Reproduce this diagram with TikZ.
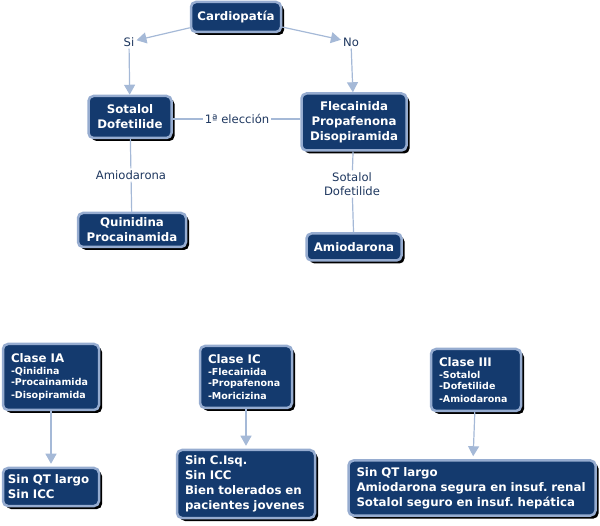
\documentclass[tikz,border=0pt]{standalone}
\usepackage{fontspec}
\setmainfont{DejaVu Sans}
\usetikzlibrary{arrows.meta,shadows}
\definecolor{navy}{RGB}{20,58,110}
\definecolor{frame}{RGB}{150,172,208}
\definecolor{wire}{RGB}{165,185,215}
\definecolor{ink}{RGB}{30,55,95}
\tikzset{
  >={Triangle[length=10pt,width=11pt]},
  concept/.style={fill=navy,draw=frame,line width=2.5pt,rounded corners=5pt,text=white,
    font=\fontsize{11.8}{15}\selectfont\bfseries,align=center,inner sep=4pt,
    drop shadow={shadow xshift=3pt,shadow yshift=-3pt,fill=black,opacity=1}},
  clase/.style={concept,align=left,text width=#1,inner xsep=8pt},
  phrase/.style={text=ink,font=\fontsize{11.6}{14}\selectfont,align=center,inner sep=2pt,fill=white},
  link/.style={draw=wire,line width=1.2pt},
  flow/.style={link,->},
}
\newcommand{\items}{\fontsize{9.5}{12.5}\selectfont}

\begin{document}
\frenchspacing
\begin{tikzpicture}[x=1pt,y=-1pt]
  \useasboundingbox (0,0) rectangle (600,526);
  % arbol de decision
  \node[concept,minimum width=90pt,minimum height=30pt] (card) at (236,17) {Cardiopatía};
  \node[phrase] (siL) at (129,42) {Si};
  \node[phrase] (noL) at (351,42) {No};
  \node[concept,minimum width=83pt,minimum height=42pt] (sota) at (130,117) {Sotalol\\Dofetilide};
  \node[concept,minimum width=105pt,minimum height=57pt] (fleca) at (354,122) {Flecainida\\Propafenona\\Disopiramida};
  \node[phrase] (elec) at (237,119) {1ª elección};
  \node[phrase] (amioL) at (131,175) {Amiodarona};
  \node[phrase] (sotaL) at (352,184) {Sotalol\\Dofetilide};
  \node[concept,minimum width=108pt,minimum height=34pt] (quini) at (132,230) {Quinidina\\Procainamida};
  \node[concept,minimum width=95pt,minimum height=27pt] (amio) at (354,247) {Amiodarona};

  \draw[flow] (card) -- (siL);
  \draw[flow] (card) -- (noL);
  \draw[flow] (siL) -- (sota);
  \draw[flow] (noL) -- (fleca);
  \draw[link] (sota.east |- elec) -- (elec) -- (elec -| fleca.west);
  \draw[link] (sota) -- (amioL) -- (quini);
  \draw[link] (fleca) -- (sotaL) -- (amio);

  % clases
  \node[clase=80pt,minimum height=66pt] (cIA) at (51,377)
    {Clase IA\\\items -Qinidina\\[-2pt]-Procainamida\\[-2pt]-Disopiramida};
  \node[clase=86pt,inner xsep=5pt,minimum height=38pt] (rIA) at (51,487) {Sin QT largo\\Sin ICC};
  \node[clase=76pt,minimum height=62pt] (cIC) at (246,377)
    {Clase IC\\\items -Flecainida\\[-2pt]-Propafenona\\[-2pt]-Moricizina};
  \node[clase=122pt,minimum height=68pt] (rIC) at (246,484)
    {Sin C.Isq.\\Sin ICC\\Bien tolerados en\\pacientes jovenes};
  \node[clase=74pt,minimum height=62pt] (cIII) at (476,380)
    {Clase III\\\items -Sotalol\\[-2pt]-Dofetilide\\[-2pt]-Amiodarona};
  \node[clase=231pt,minimum height=55pt] (rIII) at (472,488)
    {Sin QT largo\\Amiodarona segura en insuf. renal\\Sotalol seguro en insuf. hepática};

  \draw[flow,shorten >=3pt] (cIA) -- (rIA);
  \draw[flow,shorten >=3pt] (cIC) -- (rIC);
  \draw[flow,shorten >=3pt] (cIII) -- (rIII);
\end{tikzpicture}
\end{document}
